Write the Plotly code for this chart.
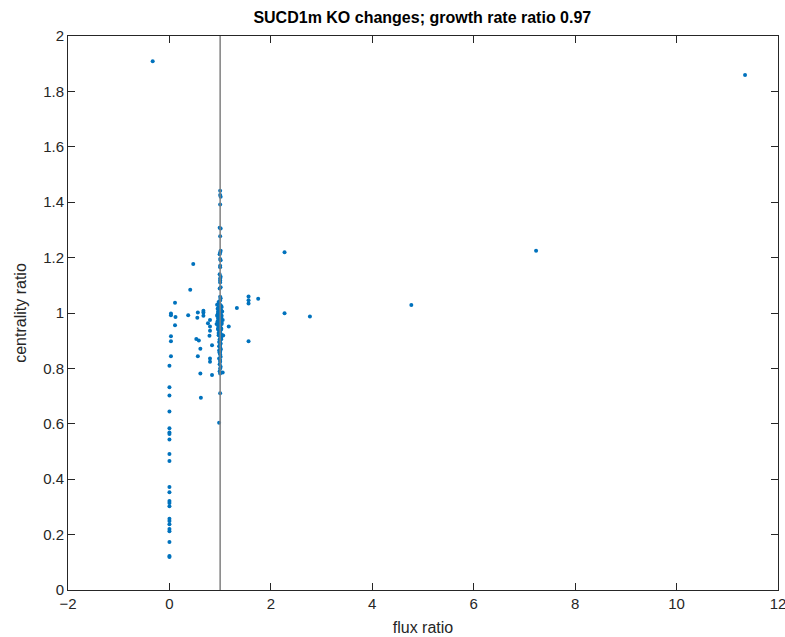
import plotly.graph_objects as go

# off-line points (flux ratio, centrality ratio)
x_out = [-0.33, 11.35, 7.23, 2.27, 2.27, 2.77, 4.77,
         0.47, 0.41, 0.11, 0.03, 0.03, 0.12, 0.11, 0.03, 0.03, 0.03,
         0.0, 0.0, 0.0, 0.0, 0.0, 0.0, 0.0, 0.0, 0.0, 0.0, 0.0, 0.0, 0.0,
         0.0, 0.0, 0.0, 0.0, 0.0, 0.0, 0.0, 0.0, 0.0, 0.0,
         0.37, 0.56, 0.67, 0.67, 0.55, 0.67, 0.80, 0.76, 0.80, 0.80, 0.79,
         0.53, 0.58, 0.61, 0.84, 0.56, 0.80, 0.80, 0.61, 0.84, 0.62,
         1.17, 1.33, 1.56, 1.56, 1.56, 1.75, 1.56, 1.06, 1.05]
y_out = [1.909, 1.859, 1.225, 1.219, 0.999, 0.987, 1.029,
         1.177, 1.084, 1.037, 0.998, 0.992, 0.986, 0.956, 0.916, 0.898, 0.844,
         0.810, 0.732, 0.702, 0.644, 0.584, 0.569, 0.563, 0.543, 0.491, 0.466, 0.372, 0.353, 0.321,
         0.314, 0.302, 0.257, 0.249, 0.237, 0.220, 0.212, 0.173, 0.123, 0.119,
         0.992, 1.002, 1.008, 1.002, 0.983, 0.990, 0.975, 0.963, 0.951, 0.936, 0.918,
         0.906, 0.901, 0.871, 0.884, 0.844, 0.836, 0.824, 0.782, 0.776, 0.694,
         0.951, 1.018, 1.060, 1.046, 1.034, 1.051, 0.898, 0.919, 0.785]

# points clustered on flux ratio ~ 1
x_line = [1.0, 1.0, 1.01, 1.0, 0.99, 1.01, 1.0, 1.01, 1.0, 0.99, 1.0, 1.01, 1.0, 1.0, 0.99,
          1.01, 1.0, 1.0, 1.0, 1.01, 0.99, 1.0, 1.01, 1.0, 0.98, 1.0, 1.02, 0.97, 1.0, 1.02,
          0.96, 1.0, 1.01, 0.95, 1.0, 1.02, 0.96, 1.0, 0.98, 1.03, 0.97, 1.0, 0.99, 1.02, 0.96,
          1.0, 0.98, 1.01, 0.97, 1.0, 1.02, 0.99, 1.0, 0.98, 1.01, 1.0, 0.99, 1.0, 1.01, 0.98,
          1.0, 0.99, 1.0, 1.01, 0.98, 1.0, 1.0, 0.99, 1.01, 1.0, 0.99, 1.0, 1.0, 0.98,
          0.94, 0.95, 0.96, 0.94, 0.97, 0.95, 0.93, 0.96, 1.04, 1.03, 1.05, 1.03, 1.02, 1.04,
          0.97, 1.03, 0.96, 1.02, 0.98, 1.01, 0.99, 1.0, 0.97, 1.02]
y_line = [1.441, 1.426, 1.420, 1.392, 1.308, 1.305, 1.277, 1.225, 1.218, 1.212, 1.195, 1.190, 1.171, 1.165, 1.140,
          1.131, 1.125, 1.117, 1.110, 1.093, 1.088, 1.059, 1.053, 1.045, 1.036, 1.030, 1.025, 1.020, 1.015, 1.010,
          1.005, 1.000, 0.998, 0.995, 0.990, 0.985, 0.980, 0.975, 0.970, 0.965, 0.960, 0.955, 0.950, 0.945, 0.940,
          0.935, 0.930, 0.925, 0.920, 0.915, 0.910, 0.905, 0.900, 0.895, 0.890, 0.885, 0.880, 0.875, 0.870, 0.865,
          0.860, 0.856, 0.850, 0.842, 0.836, 0.830, 0.824, 0.815, 0.806, 0.800, 0.790, 0.782, 0.710, 0.604,
          1.030, 1.015, 1.000, 0.990, 0.985, 0.970, 0.960, 0.945, 1.005, 0.990, 0.975, 0.960, 0.940, 0.920,
          1.040, 1.022, 0.955, 0.905, 0.880, 0.868, 0.858, 0.948, 0.928, 0.980]

x_vals = x_out + x_line
y_vals = y_out + y_line

axis_col = "#262626"
font_fam = "Liberation Sans, Arial, sans-serif"

fig = go.Figure()
fig.add_trace(go.Scatter(x=x_vals, y=y_vals, mode="markers",
                         marker=dict(color="#0072BD", size=4, line=dict(width=0)),
                         showlegend=False))
fig.add_shape(type="line", x0=1, x1=1, y0=0, y1=2, xref="x", yref="y",
              line=dict(color="#808080", width=1.5))

fig.update_layout(
    width=785, height=637,
    margin=dict(l=68, r=7, t=36, b=47),
    plot_bgcolor="white", paper_bgcolor="white",
    font=dict(family=font_fam, size=15, color=axis_col),
    title=dict(text="<b>SUCD1m KO changes; growth rate ratio 0.97</b>",
               x=0.538, xanchor="center", y=0.973, yanchor="middle",
               font=dict(size=16, color="black")),
    xaxis=dict(range=[-2, 12], tickvals=[-2, 0, 2, 4, 6, 8, 10, 12],
               ticks="inside", ticklen=7, tickcolor=axis_col, showgrid=False, zeroline=False,
               showline=True, linecolor=axis_col, linewidth=1, mirror="ticks", automargin=False,
               ticklabeloverflow="allow",
               title=dict(text="flux ratio", font=dict(size=16), standoff=10)),
    yaxis=dict(range=[0, 2], tickvals=[0, 0.2, 0.4, 0.6, 0.8, 1, 1.2, 1.4, 1.6, 1.8, 2],
               ticktext=["0", "0.2", "0.4", "0.6", "0.8", "1", "1.2", "1.4", "1.6", "1.8", "2"],
               ticks="inside", ticklen=7, tickcolor=axis_col, showgrid=False, zeroline=False,
               showline=True, linecolor=axis_col, linewidth=1, mirror="ticks", automargin=False,
               ticklabeloverflow="allow",
               title=dict(text="centrality ratio", font=dict(size=16), standoff=12)),
)

fig.write_html("out.html")
